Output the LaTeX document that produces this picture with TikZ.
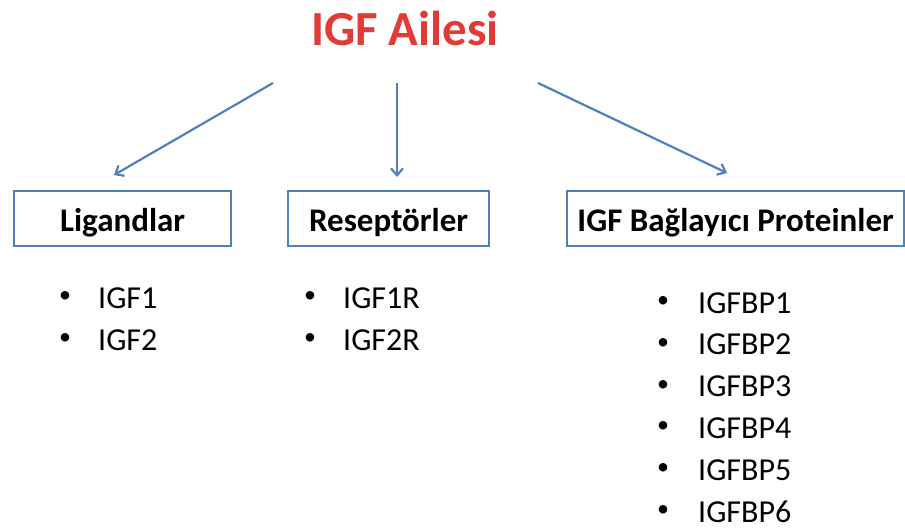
\documentclass[tikz,border=0pt]{standalone}
\usepackage{fontspec}
\setmainfont{Carlito}
\usetikzlibrary{arrows.meta}
\definecolor{ofblue}{HTML}{4F81BD}
\definecolor{ofred}{HTML}{E23B36}

\begin{document}
\begin{tikzpicture}[x=1pt,y=-1pt,>={Straight Barb[length=7pt,width=12pt]},
		kutu/.style={draw=ofblue, line width=2.2pt, anchor=north west, minimum height=55pt,
			text height=25pt, text depth=0pt, font=\bfseries\fontsize{33}{40}\selectfont},
		ok/.style={->, draw=ofblue, line width=2.2pt},
		madde/.style={anchor=base west, inner sep=0pt, font=\fontsize{32}{38}\selectfont},
		nokta/.style={inner sep=0pt, font=\fontsize{24}{28}\selectfont}]
	\useasboundingbox (0,0) rectangle (905,531);

	\node[anchor=base, inner sep=0pt, text=ofred, font=\bfseries\fontsize{49}{58}\selectfont] (aile) at (405,45) {IGF Ailesi};

	% kutular
	\node[kutu, minimum width=217pt] (lig) at (13,190) {Ligandlar};
	\node[kutu, minimum width=201pt] (res) at (287,190) {Reseptörler};
	\node[kutu, minimum width=337pt] (bag) at (566,190) {IGF Bağlayıcı Proteinler};

	% oklar
	\coordinate (a1) at (273,83);
	\coordinate (a2) at (397,83);
	\coordinate (a3) at (538,83);
	\coordinate (b1) at (114,175);
	\coordinate (b2) at (397,177);
	\coordinate (b3) at (727,173);
	\foreach \i in {1,2,3}
		\draw[ok] (a\i) -- (b\i);

	% listeler
	\foreach \t [count=\i] in {IGF1,IGF2}{
		\node[nokta] (ln\i) at (65,255+42*\i) {•};
		\node[madde] (lm\i) at (98,266+42*\i) {\t};
	}
	\foreach \t [count=\i] in {IGF1R,IGF2R}{
		\node[nokta] (rn\i) at (310,255+42*\i) {•};
		\node[madde] (rm\i) at (343,266+42*\i) {\t};
	}
	\foreach \i in {1,...,6}{
		\node[nokta] (bn\i) at (663,260.2+41.8*\i) {•};
		\node[madde] (bm\i) at (698,271.2+41.8*\i) {IGFBP\i};
	}
\end{tikzpicture}
\end{document}
